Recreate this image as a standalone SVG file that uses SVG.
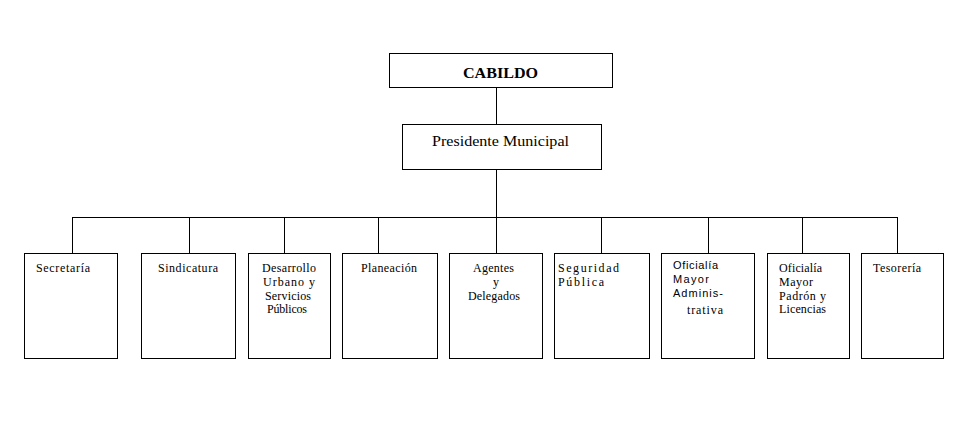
<svg xmlns="http://www.w3.org/2000/svg" width="959" height="439" viewBox="0 0 959 439">
<style>
.box{fill:#fff;stroke:#000;stroke-width:1}
.ln{stroke:#000;stroke-width:1;fill:none}
.t{font-family:"Liberation Serif","Times New Roman",serif;font-size:12px;fill:#000}
.s{font-family:"Liberation Sans",Arial,sans-serif;font-size:11px;fill:#000}
.c{text-anchor:middle}
</style>
<rect width="959" height="439" fill="#fff"/>
<g id="connectors">
<path class="ln" d="M496.5 87V124M496.5 169V217.5M72.5 217.5H897.5M72.5 217V253M189.5 217V253M284.5 217V253M378.5 217V253M496.5 217V253M601.5 217V253M708.5 217V253M802.5 217V253M897.5 217V253"/>
</g>
<g id="cabildo">
<rect class="box" x="389.5" y="53.5" width="223" height="34"/>
<text class="t" x="463" y="78" style="font-size:15px;font-weight:bold" textLength="75" lengthAdjust="spacingAndGlyphs">CABILDO</text>
</g>
<g id="presidente">
<rect class="box" x="402.5" y="124.5" width="199" height="45"/>
<text class="t" x="432" y="146" style="font-size:14px" textLength="137" lengthAdjust="spacingAndGlyphs">Presidente Municipal</text>
</g>
<g id="secretaria">
<rect class="box" x="24.5" y="253.5" width="93" height="105"/>
<text class="t" x="36" y="272" textLength="54" lengthAdjust="spacing">Secretaría</text>
</g>
<g id="sindicatura">
<rect class="box" x="141.5" y="253.5" width="94" height="105"/>
<text class="t" x="158" y="272" textLength="60" lengthAdjust="spacing">Sindicatura</text>
</g>
<g id="desarrollo">
<rect class="box" x="248.5" y="253.5" width="82" height="105"/>
<text class="t" x="262" y="272" textLength="54" lengthAdjust="spacing">Desarrollo</text>
<text class="t" x="263" y="286" textLength="52" lengthAdjust="spacing">Urbano y</text>
<text class="t" x="265" y="300" textLength="46" lengthAdjust="spacing">Servicios</text>
<text class="t" x="267" y="313" textLength="40" lengthAdjust="spacing">Públicos</text>
</g>
<g id="planeacion">
<rect class="box" x="342.5" y="253.5" width="95" height="105"/>
<text class="t" x="361" y="272" textLength="56" lengthAdjust="spacing">Planeación</text>
</g>
<g id="agentes">
<rect class="box" x="449.5" y="253.5" width="93" height="105"/>
<text class="t" x="473" y="272" textLength="41" lengthAdjust="spacing">Agentes</text>
<text class="t c" x="496" y="286">y</text>
<text class="t" x="468" y="300" textLength="52" lengthAdjust="spacing">Delegados</text>
</g>
<g id="seguridad">
<rect class="box" x="554.5" y="253.5" width="95" height="105"/>
<text class="t" x="558" y="272" textLength="61" lengthAdjust="spacing">Seguridad</text>
<text class="t" x="558" y="286" textLength="46" lengthAdjust="spacing">Pública</text>
</g>
<g id="oficialia-admin">
<rect class="box" x="661.5" y="253.5" width="93" height="105"/>
<text class="s" x="673" y="269" textLength="45" lengthAdjust="spacing">Oficialía</text>
<text class="s" x="673" y="283" textLength="36" lengthAdjust="spacing">Mayor</text>
<text class="s" x="673" y="297" textLength="50" lengthAdjust="spacing">Adminis-</text>
<text class="t" x="687" y="314" textLength="36" lengthAdjust="spacing">trativa</text>
</g>
<g id="oficialia-padron">
<rect class="box" x="767.5" y="253.5" width="82" height="105"/>
<text class="t" x="779" y="272" textLength="43" lengthAdjust="spacing">Oficialía</text>
<text class="t" x="779" y="286" textLength="34" lengthAdjust="spacing">Mayor</text>
<text class="t" x="779" y="300" textLength="47" lengthAdjust="spacing">Padrón y</text>
<text class="t" x="779" y="313" textLength="47" lengthAdjust="spacing">Licencias</text>
</g>
<g id="tesoreria">
<rect class="box" x="861.5" y="253.5" width="82" height="105"/>
<text class="t" x="873" y="272" textLength="48" lengthAdjust="spacing">Tesorería</text>
</g>
</svg>
